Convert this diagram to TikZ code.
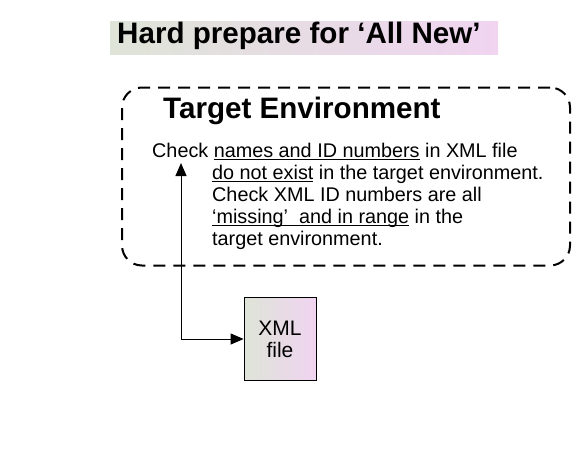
\documentclass[tikz,border=0pt]{standalone}
\usepackage{fontspec}
\setmainfont{Liberation Sans}
\usetikzlibrary{arrows.meta}
\definecolor{bgleft}{RGB}{222,228,216}
\definecolor{bgright}{RGB}{240,212,240}
\newsavebox\myulbox
\newcommand\myul[1]{\leavevmode\sbox\myulbox{#1}\rlap{\rule[-2.6pt]{\wd\myulbox}{1pt}}\usebox\myulbox}
\tikzset{
  bodytext/.style={anchor=base west, inner sep=0pt, font=\fontsize{19.8}{22}\selectfont},
  headtext/.style={anchor=base west, inner sep=0pt, font=\fontsize{29.6}{34}\selectfont\bfseries},
  shadedbox/.style={left color=bgleft, right color=bgright, inner sep=0pt},
  envbox/.style={draw, line width=2pt, dash pattern=on 12pt off 8pt, rounded corners=20pt, inner sep=0pt},
  link/.style={line width=1pt, {Triangle[length=13pt,width=11pt]}-{Triangle[length=13pt,width=11pt]}}
}
\begin{document}
\begin{tikzpicture}[x=1pt,y=-1pt]
\useasboundingbox (0,0) rectangle (572,450);
% title
\node[shadedbox, minimum width=388pt, minimum height=33pt] (titlebg) at (304,37.5) {};
\node[headtext] (title) at (117,43) {Hard prepare for ‘All New’};
% environment box
\node[envbox, minimum width=448pt, minimum height=178pt] (env) at (346,176.5) {};
\node[headtext] (envtitle) at (163,118) {Target Environment};
\node[bodytext] (l1) at (152,157) {Check \myul{names and ID numbers} in XML file};
\node[bodytext] (l2) at (212,179) {\myul{do not exist} in the target environment.};
\node[bodytext] (l3) at (212,201) {Check XML ID numbers are all};
\node[bodytext] (l4) at (212,223) {\myul{‘missing’\ \ and in range} in the};
\node[bodytext] (l5) at (212,245) {target environment.};
% xml file
\node[shadedbox, draw, line width=0.8pt, minimum width=72pt, minimum height=83pt, align=center,
      font=\fontsize{21}{22}\selectfont] (xml) at (280,339) {XML\\file};
\coordinate (arrtop) at (181,163);
\draw[link] (arrtop) |- (xml.west);
\end{tikzpicture}
\end{document}
